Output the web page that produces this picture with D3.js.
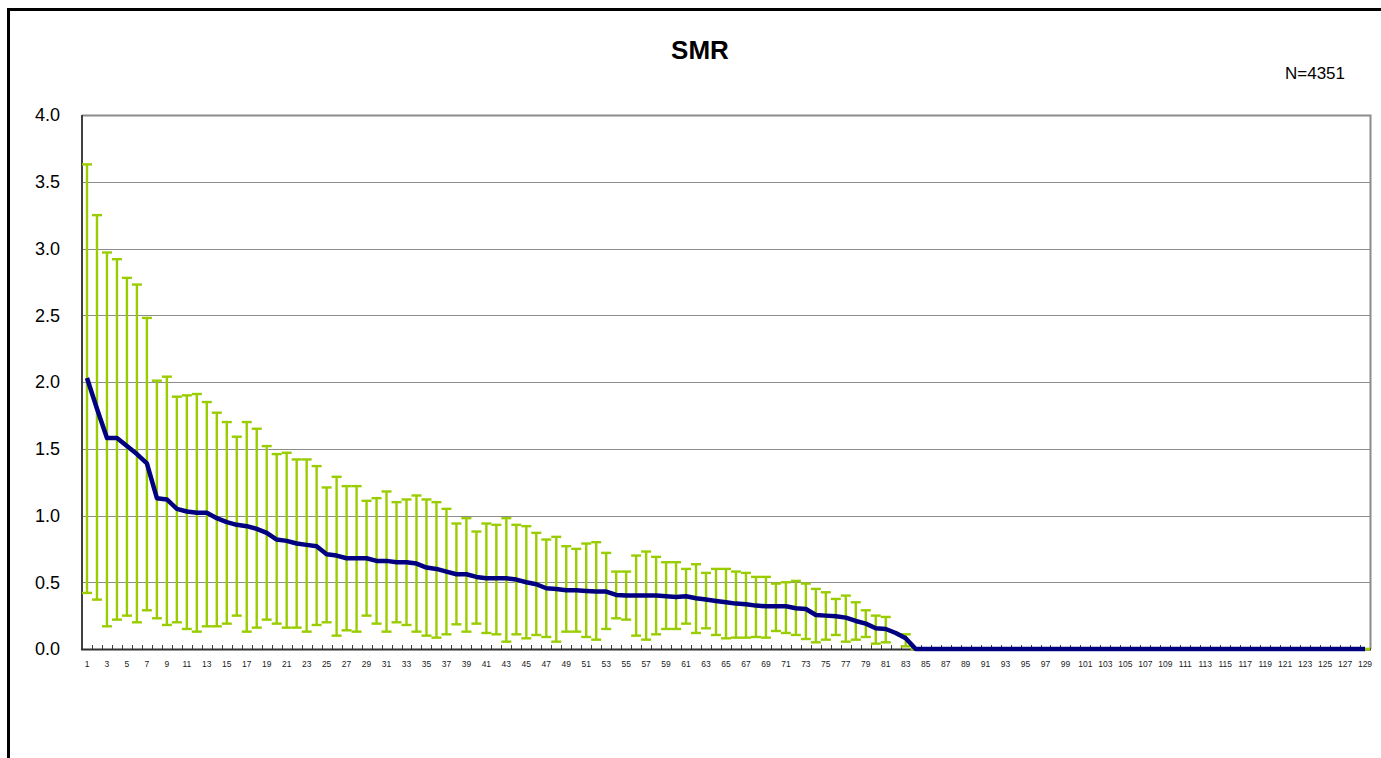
<!DOCTYPE html>
<html>
<head>
<meta charset="utf-8">
<script src="https://cdn.jsdelivr.net/npm/d3@7/dist/d3.min.js"></script>
<style>
  html, body { margin: 0; padding: 0; background: #fff; }
  svg { display: block; }
  text { font-family: "Liberation Sans", Arial, sans-serif; }
</style>
</head>
<body>
<svg id="chart" width="1381" height="758"></svg>
<script>
// ---- data ----
const title = "SMR";
const note = "N=4351";
const categories = d3.range(1, 130).map(String);
const yTicks = [0.0, 0.5, 1.0, 1.5, 2.0, 2.5, 3.0, 3.5, 4.0];

const smr = [
  2.03, 1.80, 1.58, 1.58, 1.52, 1.46, 1.39, 1.13, 1.12, 1.05,
  1.03, 1.02, 1.02, 0.98, 0.95, 0.93, 0.92, 0.90, 0.87, 0.82,
  0.81, 0.79, 0.78, 0.77, 0.71, 0.70, 0.68, 0.68, 0.68, 0.66,
  0.66, 0.65, 0.65, 0.64, 0.61, 0.60, 0.58, 0.56, 0.56, 0.54,
  0.53, 0.53, 0.53, 0.52, 0.50, 0.485, 0.455, 0.45, 0.44, 0.44,
  0.435, 0.43, 0.43, 0.405, 0.40, 0.40, 0.40, 0.40, 0.395, 0.39,
  0.395, 0.38, 0.37, 0.36, 0.35, 0.34, 0.335, 0.325, 0.32, 0.32,
  0.32, 0.305, 0.30, 0.255, 0.25, 0.245, 0.235, 0.21, 0.19, 0.155,
  0.15, 0.12, 0.08, 0, 0, 0, 0, 0, 0, 0,
  0, 0, 0, 0, 0, 0, 0, 0, 0, 0,
  0, 0, 0, 0, 0, 0, 0, 0, 0, 0,
  0, 0, 0, 0, 0, 0, 0, 0, 0, 0,
  0, 0, 0, 0, 0, 0, 0, 0, 0
];

const upper = [
  3.63, 3.25, 2.97, 2.92, 2.78, 2.73, 2.48, 2.01, 2.04, 1.89,
  1.90, 1.91, 1.85, 1.77, 1.70, 1.59, 1.70, 1.65, 1.52, 1.46,
  1.47, 1.42, 1.42, 1.37, 1.21, 1.29, 1.22, 1.22, 1.11, 1.13,
  1.18, 1.10, 1.12, 1.15, 1.12, 1.10, 1.05, 0.94, 0.98, 0.88,
  0.94, 0.93, 0.98, 0.93, 0.92, 0.87, 0.82, 0.84, 0.77, 0.75,
  0.79, 0.80, 0.72, 0.58, 0.58, 0.70, 0.73, 0.69, 0.65, 0.65,
  0.60, 0.635, 0.57, 0.60, 0.60, 0.58, 0.57, 0.54, 0.54, 0.49,
  0.50, 0.51, 0.49, 0.45, 0.425, 0.375, 0.40, 0.35, 0.29, 0.25,
  0.24, null, 0.11, 0, 0, 0, 0, 0, 0, 0,
  0, 0, 0, 0, 0, 0, 0, 0, 0, 0,
  0, 0, 0, 0, 0, 0, 0, 0, 0, 0,
  0, 0, 0, 0, 0, 0, 0, 0, 0, 0,
  0, 0, 0, 0, 0, 0, 0, 0, 0
];

const lower = [
  0.42, 0.37, 0.17, 0.22, 0.25, 0.20, 0.29, 0.23, 0.18, 0.20,
  0.15, 0.13, 0.17, 0.17, 0.19, 0.25, 0.13, 0.16, 0.22, 0.19,
  0.16, 0.16, 0.13, 0.18, 0.20, 0.10, 0.14, 0.13, 0.25, 0.19,
  0.13, 0.20, 0.18, 0.13, 0.10, 0.085, 0.11, 0.185, 0.13, 0.19,
  0.12, 0.11, 0.055, 0.11, 0.08, 0.105, 0.09, 0.055, 0.13, 0.13,
  0.09, 0.07, 0.15, 0.23, 0.22, 0.10, 0.07, 0.11, 0.15, 0.15,
  0.19, 0.12, 0.155, 0.105, 0.08, 0.085, 0.085, 0.09, 0.085, 0.135,
  0.12, 0.105, 0.075, 0.05, 0.07, 0.105, 0.055, 0.07, 0.09, 0.04,
  0.05, null, 0.02, 0, 0, 0, 0, 0, 0, 0,
  0, 0, 0, 0, 0, 0, 0, 0, 0, 0,
  0, 0, 0, 0, 0, 0, 0, 0, 0, 0,
  0, 0, 0, 0, 0, 0, 0, 0, 0, 0,
  0, 0, 0, 0, 0, 0, 0, 0, 0
];

// ---- layout ----
const svg = d3.select("#chart");
const plot = { left: 82, right: 1370, top: 115, bottom: 649 };

const x = d3.scaleBand().domain(categories).range([plot.left, plot.right]).padding(0);
const y = d3.scaleLinear().domain([0, 4]).range([plot.bottom, plot.top]);
const cx = c => x(c) + x.bandwidth() / 2;

// outer frame
svg.append("rect")
  .attr("x", 8.5).attr("y", 9.5)
  .attr("width", 1400).attr("height", 800)
  .attr("fill", "none").attr("stroke", "#000").attr("stroke-width", 3);

// title and note
svg.append("text").attr("x", 700).attr("y", 59)
  .attr("text-anchor", "middle").attr("font-size", 26).attr("font-weight", "bold").attr("fill", "#000")
  .text(title);
svg.append("text").attr("x", 1345).attr("y", 79)
  .attr("text-anchor", "end").attr("font-size", 17).attr("fill", "#000")
  .text(note);

// gridlines
svg.append("g").selectAll("line").data(yTicks.filter(t => t > 0 && t < 4)).join("line")
  .attr("x1", plot.left).attr("x2", plot.right)
  .attr("y1", d => Math.round(y(d)) + 0.5).attr("y2", d => Math.round(y(d)) + 0.5)
  .attr("stroke", "#8c8c8c").attr("stroke-width", 1);

// plot border (top/right gray)
svg.append("path")
  .attr("d", `M${plot.left},${plot.top + 0.5}H${plot.right + 0.5}V${plot.bottom}`)
  .attr("fill", "none").attr("stroke", "#8c8c8c").attr("stroke-width", 2);

// y axis
const yAxis = d3.axisLeft(y).tickValues(yTicks).tickSize(0).tickPadding(22)
  .tickFormat(d3.format(".1f"));
const gy = svg.append("g").attr("transform", `translate(${plot.left},0)`).call(yAxis);
gy.select(".domain").remove();
gy.selectAll("text").attr("font-size", 18).attr("fill", "#000")
  .attr("font-family", "'Liberation Sans', Arial, sans-serif");

// left axis line
svg.append("line").attr("x1", plot.left).attr("x2", plot.left)
  .attr("y1", plot.top).attr("y2", plot.bottom + 1)
  .attr("stroke", "#404040").attr("stroke-width", 2);

// x axis
const xAxis = d3.axisBottom(x).tickSize(0).tickPadding(12)
  .tickFormat((d, i) => (i % 2 === 0 ? d : ""));
const gx = svg.append("g").attr("transform", `translate(0,${plot.bottom})`).call(xAxis);
gx.select(".domain").remove();
gx.selectAll("text").attr("font-size", 8.5).attr("fill", "#222")
  .attr("font-family", "'Liberation Sans', Arial, sans-serif");

// x tick marks at band boundaries (pointing inward)
svg.append("g").selectAll("line").data(categories.slice(1)).join("line")
  .attr("x1", d => Math.round(x(d)) + 0.5).attr("x2", d => Math.round(x(d)) + 0.5)
  .attr("y1", plot.bottom).attr("y2", plot.bottom - 4)
  .attr("stroke", "#404040").attr("stroke-width", 1);

svg.append("line").attr("x1", plot.left - 1).attr("x2", plot.right + 1)
  .attr("y1", plot.bottom + 0.5).attr("y2", plot.bottom + 0.5)
  .attr("stroke", "#303030").attr("stroke-width", 2);

// error bars
const eb = categories.map((c, i) => ({ c, hi: upper[i], lo: lower[i] }))
  .filter(d => d.hi !== null && d.lo !== null);
const barColor = "#9acd00";
const capHalf = 5;
const ge = svg.append("g");
ge.selectAll("line.v").data(eb).join("line").attr("class", "v")
  .attr("x1", d => cx(d.c)).attr("x2", d => cx(d.c))
  .attr("y1", d => y(d.hi)).attr("y2", d => y(d.lo))
  .attr("stroke", barColor).attr("stroke-width", 2.4);
ge.selectAll("line.t").data(eb).join("line").attr("class", "t")
  .attr("x1", d => cx(d.c) - capHalf).attr("x2", d => cx(d.c) + capHalf)
  .attr("y1", d => y(d.hi)).attr("y2", d => y(d.hi))
  .attr("stroke", barColor).attr("stroke-width", 2.4);
ge.selectAll("line.b").data(eb).join("line").attr("class", "b")
  .attr("x1", d => cx(d.c) - capHalf).attr("x2", d => cx(d.c) + capHalf)
  .attr("y1", d => y(d.lo)).attr("y2", d => y(d.lo))
  .attr("stroke", barColor).attr("stroke-width", 2.4);

// SMR line
const line = d3.line().x((d, i) => cx(categories[i])).y(d => y(d));
svg.append("path").datum(smr)
  .attr("d", line)
  .attr("fill", "none").attr("stroke", "#000080").attr("stroke-width", 4.5)
  .attr("stroke-linejoin", "round");
</script>
</body>
</html>
